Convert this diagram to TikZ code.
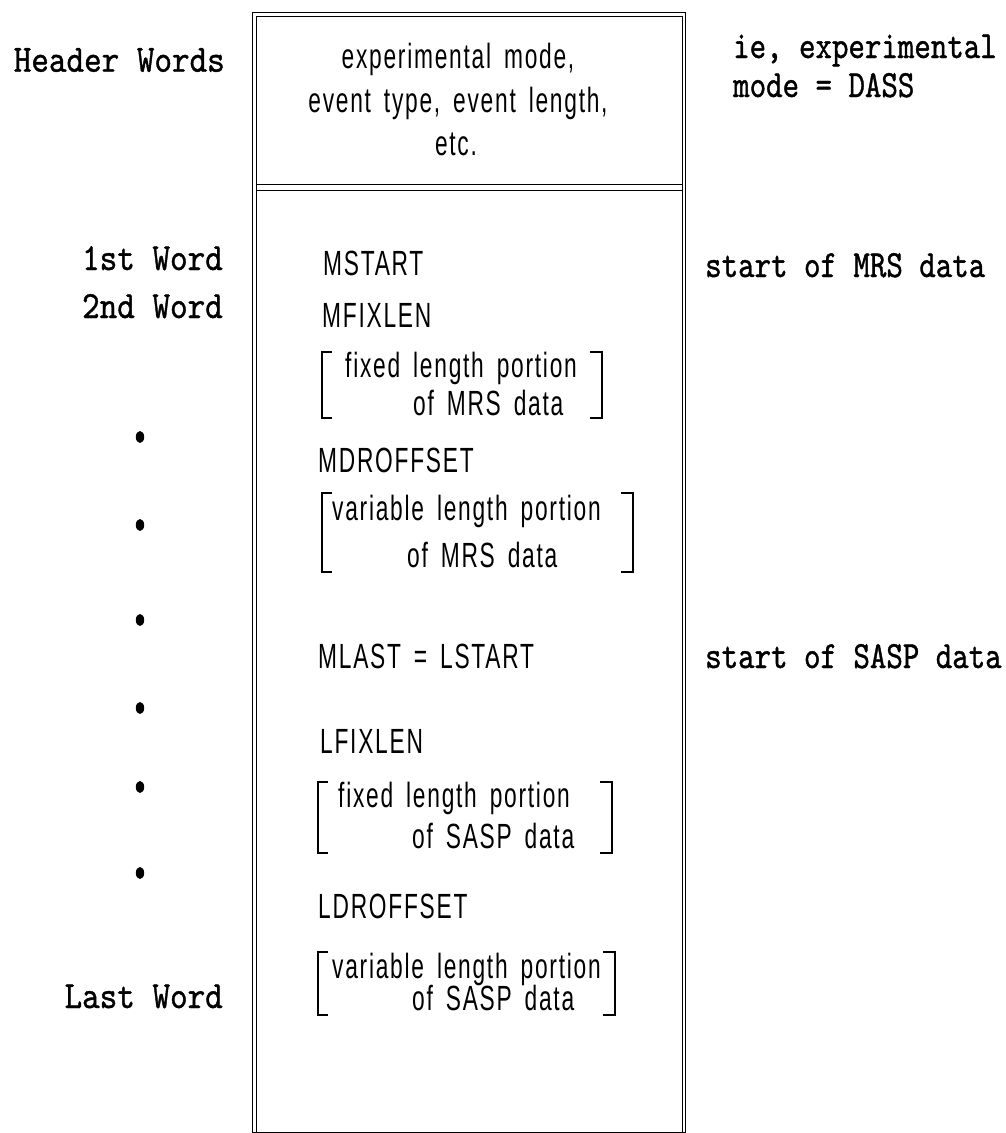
\documentclass[tikz,border=0pt]{standalone}
\usepackage{fontspec}
\newfontfamily\cellfont{Liberation Sans}[FakeStretch=0.65,LetterSpace=5,WordSpace=1.6]
\newfontfamily\sidefont{lmmono10-regular.otf}[FakeStretch=0.87,FakeBold=1]
\newfontfamily\notefont{lmmono10-regular.otf}[FakeStretch=0.815,FakeBold=1]

% square bracket pair spanning two text lines: left x, right x, top y, bottom y
\newcommand\sqbrackets[4]{%
  \draw[brk] ({#1+10},#3) -- (#1,#3) -- (#1,#4) -- ({#1+10},#4);
  \draw[brk] ({#2-12},#3) -- (#2,#3) -- (#2,#4) -- ({#2-12},#4);
}

\begin{document}
\begin{tikzpicture}[x=1pt,y=-1pt,
  cell/.style={font=\cellfont\fontsize{35}{40}\selectfont, inner sep=0pt, anchor=base west},
  cellc/.style={cell, anchor=base},
  sidel/.style={font=\sidefont\fontsize{38.5}{44}\selectfont, inner sep=0pt, anchor=base east},
  sider/.style={font=\notefont\fontsize{38.5}{44}\selectfont, inner sep=0pt, anchor=base west},
  frame/.style={line width=1pt},
  brk/.style={line width=2pt},
  bullet/.style={fill=black}]
\useasboundingbox (0,0) rectangle (1005,1133);

% double-lined record frame
\draw[frame] (252.5,1132) -- (252.5,12.5) -- (685.5,12.5) -- (685.5,1132) -- cycle;
\draw[frame] (256,1132) -- (256,16) -- (682,16) -- (682,1132);
% double divider below the header words
\draw[frame] (256,184) -- (682,184);
\draw[frame] (256,190.5) -- (682,190.5);

% header contents
\node[cellc] (hdrA) at (458,68) {experimental mode,};
\node[cellc] (hdrB) at (458,112) {event type, event length,};
\node[cellc] (hdrC) at (456,155) {etc.};

% left-hand labels
\node[sidel] (lblHeader) at (225,71.7) {Header Words};
\node[sidel] (lblFirst) at (223,270) {1st Word};
\node[sidel] (lblSecond) at (223,318) {2nd Word};
\node[sidel] (lblLast) at (223,1008) {Last Word};

% continuation dots
\foreach \yy in {437,525,620,708,787,873}
  \fill[bullet] (140,\yy) ellipse [x radius=4.2pt, y radius=6pt];

% right-hand notes
\node[sider] (noteA) at (733,58) {ie, experimental};
\node[sider] (noteB) at (733,97) {mode = DASS};
\node[sider] (noteMRS) at (705,277) {start of MRS data};
\node[sider] (noteSASP) at (705,668) {start of SASP data};

% MRS section
\node[cell] (mstart) at (323,275) {MSTART};
\node[cell] (mfixlen) at (322,327) {MFIXLEN};
\sqbrackets{322}{602}{352}{418}
\node[cell] (mfixA) at (345,377) {fixed length portion};
\node[cell] (mfixB) at (413,415) {of MRS data};
\node[cell] (mdroff) at (318,472) {MDROFFSET};
\sqbrackets{322}{633}{493}{572}
\node[cell] (mvarA) at (332,520) {variable length portion};
\node[cell] (mvarB) at (407,567) {of MRS data};

% SASP section
\node[cell] (mlast) at (318,668) {MLAST = LSTART};
\node[cell] (lfixlen) at (320,753) {LFIXLEN};
\sqbrackets{318}{612}{782}{853}
\node[cell] (lfixA) at (338,807) {fixed length portion};
\node[cell] (lfixB) at (412,848) {of SASP data};
\node[cell] (ldroff) at (318,918) {LDROFFSET};
\sqbrackets{318}{615}{952}{1015}
\node[cell] (lvarA) at (332,978) {variable length portion};
\node[cell] (lvarB) at (412,1010) {of SASP data};
\end{tikzpicture}
\end{document}
